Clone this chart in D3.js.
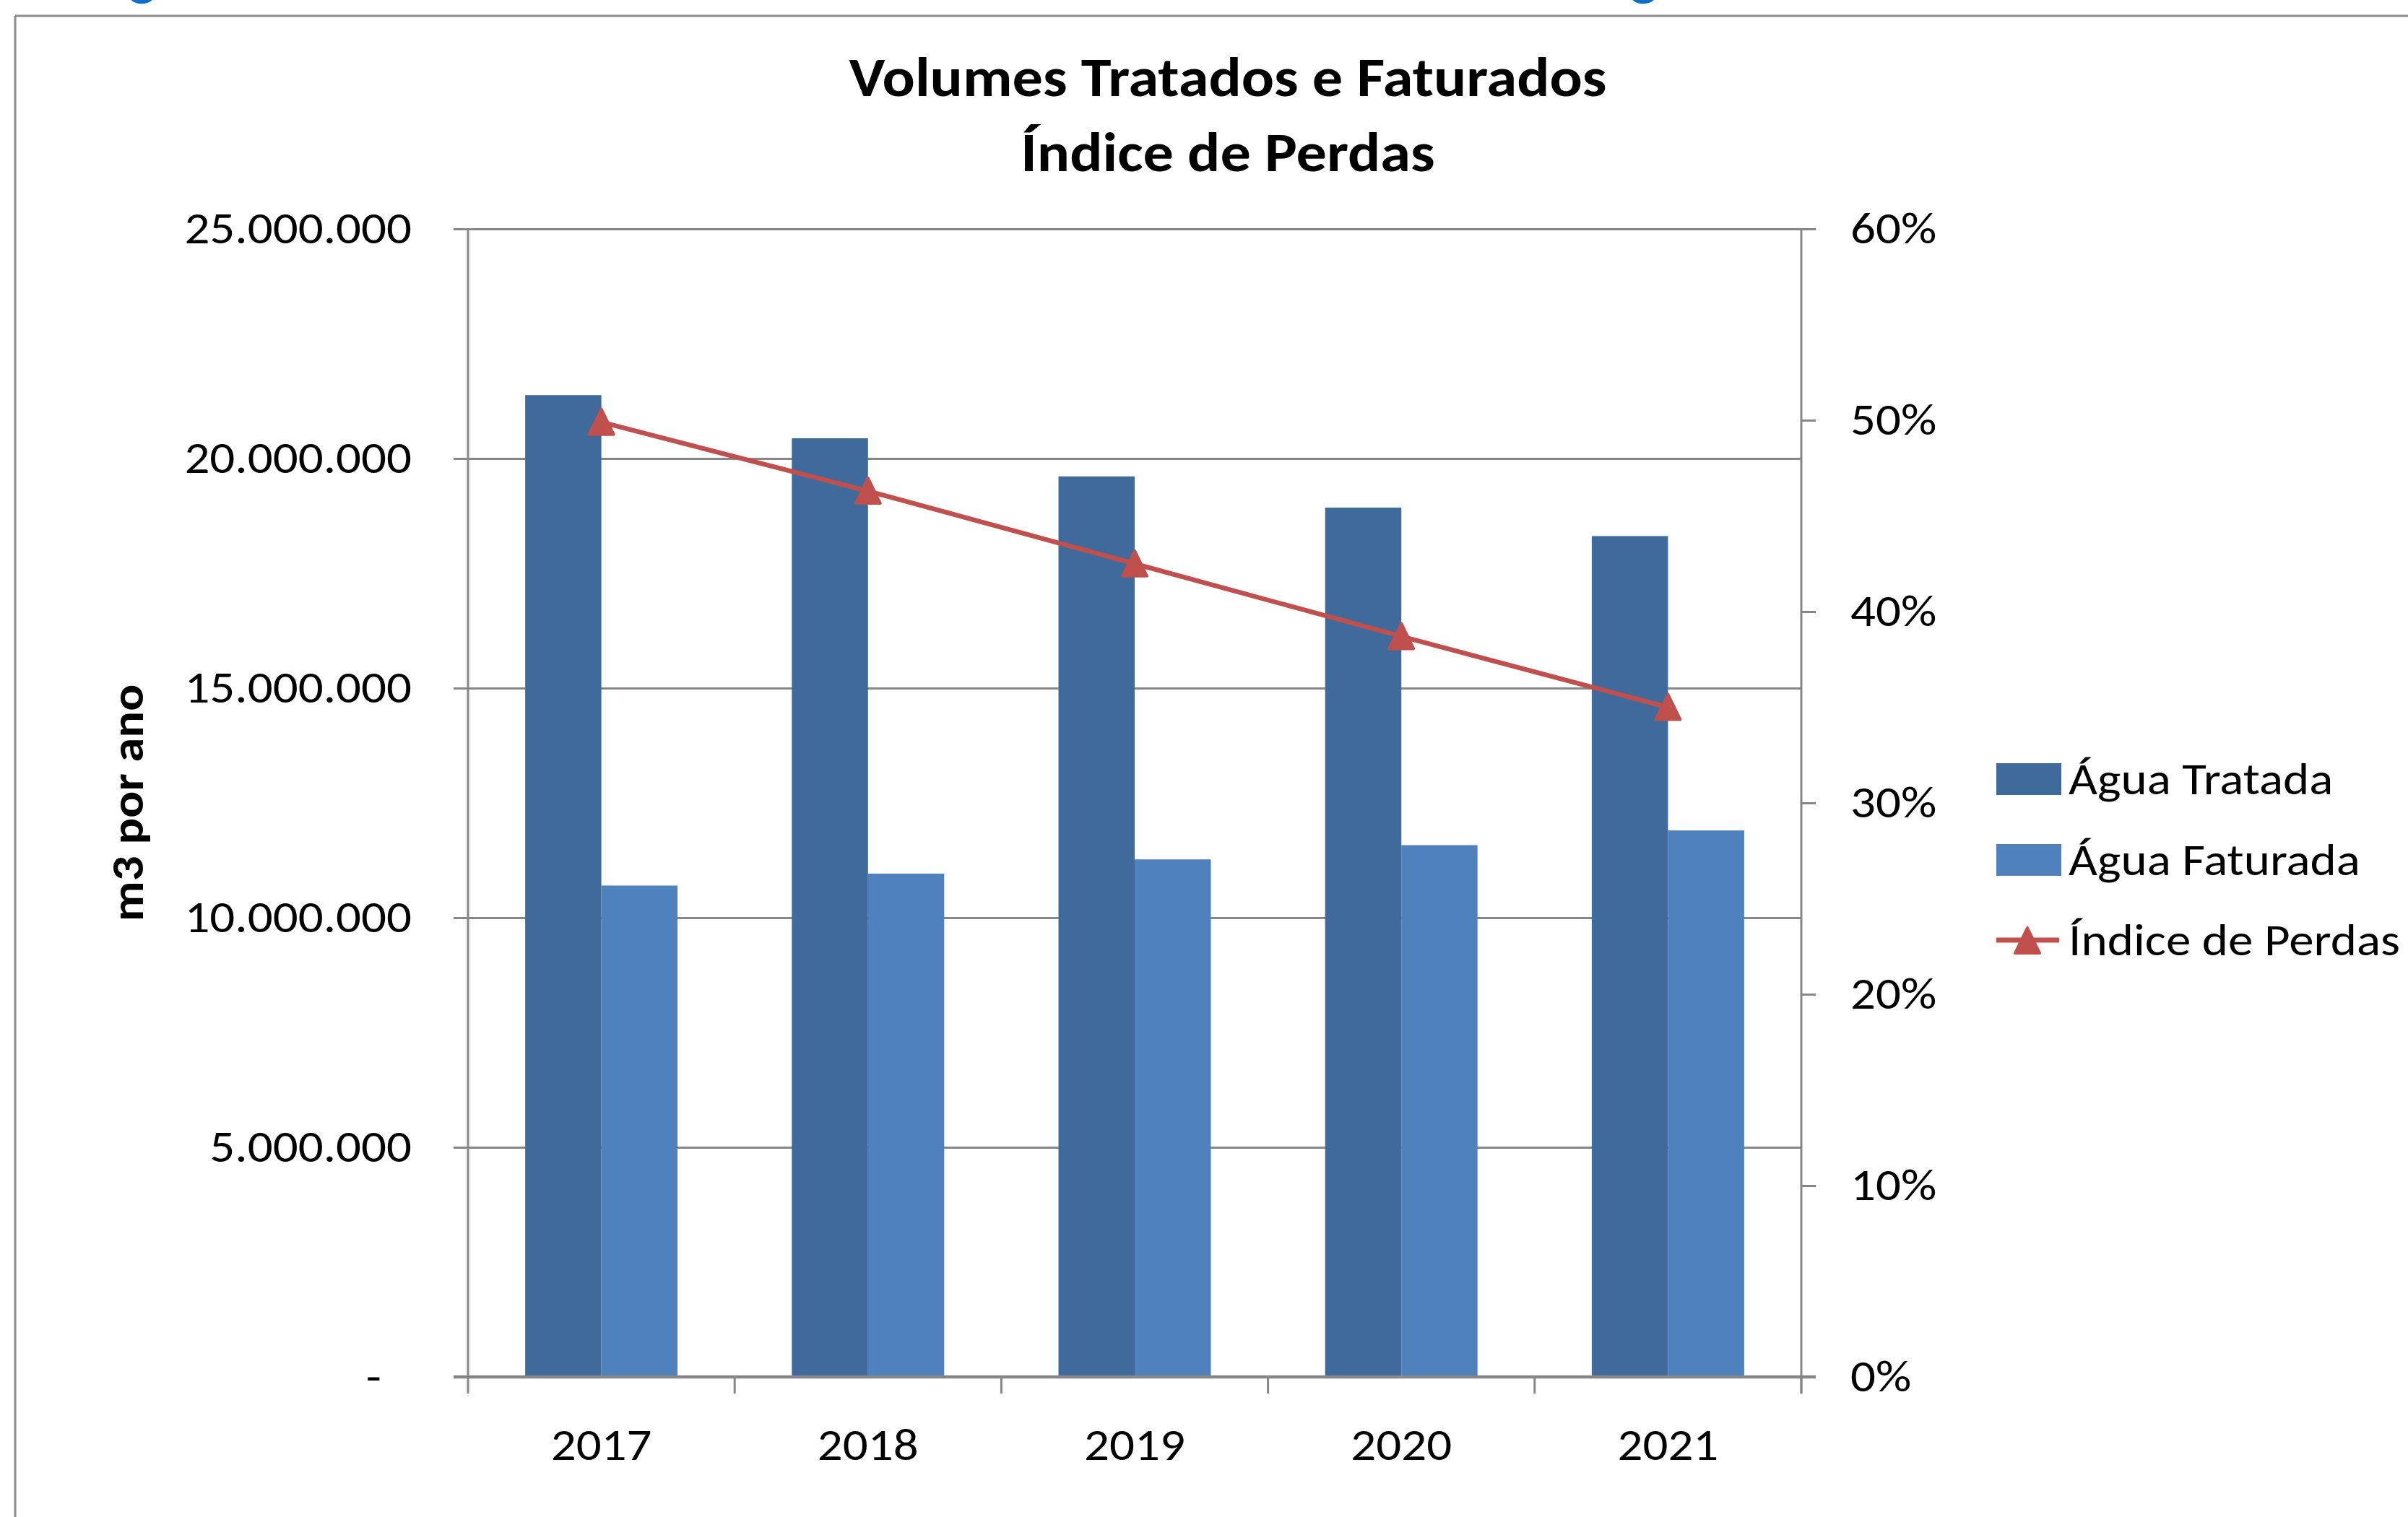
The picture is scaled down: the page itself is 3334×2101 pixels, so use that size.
<!DOCTYPE html>
<html>
<head>
<meta charset="utf-8">
<script src="https://cdn.jsdelivr.net/npm/d3@7"></script>
<style>
  html, body { margin: 0; padding: 0; background: #ffffff; }
  svg { display: block; }
  text { font-family: Carlito, Calibri, Lato, sans-serif; fill: #000; }
</style>
</head>
<body>
<svg id="chart" width="3334" height="2101"></svg>
<script>
// ---- data ----
const years = ["2017", "2018", "2019", "2020", "2021"];
const aguaTratada = [21380000, 20440000, 19610000, 18930000, 18310000];
const aguaFaturada = [10700000, 10960000, 11270000, 11580000, 11900000];
const indicePerdas = [0.499, 0.463, 0.425, 0.387, 0.350];
const leftTicks = [0, 5000000, 10000000, 15000000, 20000000, 25000000];
const rightTicks = [0, 0.1, 0.2, 0.3, 0.4, 0.5, 0.6];
const seriesNames = ["Água Tratada", "Água Faturada", "Índice de Perdas"];
const titleLines = ["Volumes Tratados e Faturados", "Índice de Perdas"];
const yAxisTitle = "m3 por ano";

// ---- styles ----
const C_TRAT = "#3F6A9B", C_FAT = "#4F81BD", C_LINE = "#C0504D", C_GRID = "#878787";
const FS = 62, FS_TITLE = 76;

const svg = d3.select("#chart");
const W = 3334, H = 2101;
const plot = { left: 648, right: 2494, top: 317, bottom: 1907 };

// width calibration to mimic Calibri metrics
function measure(str, size, weight) {
  const t = svg.append("text").attr("font-size", size).attr("font-weight", weight).text(str);
  const w = t.node().getComputedTextLength(); t.remove(); return w;
}
const kReg = 459 / measure("Índice de Perdas", FS, "normal");
const kBold = 1049 / measure("Volumes Tratados e Faturados", FS_TITLE, "bold");
function fit(sel, k) {
  sel.each(function () {
    const w = this.getComputedTextLength();
    this.setAttribute("textLength", w * k);
    this.setAttribute("lengthAdjust", "spacingAndGlyphs");
  });
}

const loc = d3.formatLocale({ decimal: ",", thousands: ".", grouping: [3], currency: ["R$", ""] });
const fmtNum = loc.format(",.0f");
const fmtPct = d3.format(".0%");

// ---- scales ----
const x = d3.scaleBand().domain(years).range([plot.left, plot.right]).paddingInner(0).paddingOuter(0);
const y = d3.scaleLinear().domain([0, 25000000]).range([plot.bottom, plot.top]);
const y2 = d3.scaleLinear().domain([0, 0.6]).range([plot.bottom, plot.top]);
const barW = x.bandwidth() / 3.5;
const groupOff = (x.bandwidth() - 2 * barW) / 2;

// ---- chart border (cut) ----
svg.append("line").attr("x1", 21).attr("x2", W).attr("y1", 22).attr("y2", 22)
  .attr("stroke", "#8C8C8C").attr("stroke-width", 3);
svg.append("line").attr("x1", 21).attr("x2", 21).attr("y1", 22).attr("y2", H)
  .attr("stroke", "#8C8C8C").attr("stroke-width", 3);

// cut-off blue text fragments above the chart
svg.append("text").attr("x", 178).attr("y", -9).attr("font-size", 80).attr("font-weight", "bold")
  .style("fill", "#0E6FC6").text("g");
svg.append("text").attr("x", 2257).attr("y", -9).attr("font-size", 80).attr("font-weight", "bold")
  .style("fill", "#0E6FC6").text("g");

// ---- gridlines + left axis ----
const gLeft = svg.append("g").attr("transform", `translate(${plot.left},0)`)
  .call(d3.axisLeft(y).tickValues(leftTicks).tickSize(plot.left - plot.right).tickSizeOuter(0).tickFormat(""));
gLeft.select(".domain").remove();
gLeft.selectAll(".tick line").attr("stroke", C_GRID).attr("stroke-width", 3).attr("x1", -20);

// ---- bars ----
svg.append("g").selectAll("rect").data(years).join("rect")
  .attr("x", d => x(d) + groupOff)
  .attr("width", barW)
  .attr("y", (d, i) => y(aguaTratada[i]))
  .attr("height", (d, i) => y(0) - y(aguaTratada[i]))
  .attr("fill", C_TRAT);
svg.append("g").selectAll("rect").data(years).join("rect")
  .attr("x", d => x(d) + groupOff + barW)
  .attr("width", barW)
  .attr("y", (d, i) => y(aguaFaturada[i]))
  .attr("height", (d, i) => y(0) - y(aguaFaturada[i]))
  .attr("fill", C_FAT);

// ---- axes lines ----
svg.append("line").attr("x1", plot.left).attr("x2", plot.left).attr("y1", plot.top).attr("y2", plot.bottom + 23)
  .attr("stroke", C_GRID).attr("stroke-width", 3);
svg.append("line").attr("x1", plot.right).attr("x2", plot.right).attr("y1", plot.top).attr("y2", plot.bottom + 23)
  .attr("stroke", C_GRID).attr("stroke-width", 3);

// bottom category axis
const gBottom = svg.append("g").attr("transform", `translate(0,${plot.bottom})`)
  .call(d3.axisBottom(x).tickSize(0).tickSizeOuter(0));
gBottom.select(".domain").remove();
gBottom.selectAll(".tick text").attr("font-size", FS).attr("font-family", null).attr("dy", null).attr("y", 115).style("fill", "#000");
fit(gBottom.selectAll(".tick text"), kReg);
// category boundary ticks
svg.append("g").selectAll("line").data(years).join("line")
  .attr("x1", d => x(d) + x.bandwidth()).attr("x2", d => x(d) + x.bandwidth())
  .attr("y1", plot.bottom).attr("y2", plot.bottom + 23)
  .attr("stroke", C_GRID).attr("stroke-width", 3);
svg.append("line").attr("x1", plot.left - 20).attr("x2", plot.right + 20).attr("y1", plot.bottom).attr("y2", plot.bottom)
  .attr("stroke", C_GRID).attr("stroke-width", 4.5);

// left tick labels
svg.append("g").selectAll("text").data(leftTicks).join("text")
  .attr("x", d => d === 0 ? 528 : 570)
  .attr("y", d => y(d)).attr("dy", "0.33em")
  .attr("text-anchor", "end").attr("font-size", FS)
  .text(d => d === 0 ? "-" : fmtNum(d))
  .call(fit, kReg);

// right axis ticks + labels
const gRight = svg.append("g").attr("transform", `translate(${plot.right},0)`)
  .call(d3.axisRight(y2).tickValues(rightTicks).tickSize(20).tickSizeOuter(0).tickFormat(""));
gRight.select(".domain").remove();
gRight.selectAll(".tick line").attr("stroke", C_GRID).attr("stroke-width", 3);
svg.append("g").selectAll("text").data(rightTicks).join("text")
  .attr("x", 2562).attr("y", d => y2(d)).attr("dy", "0.33em")
  .attr("font-size", FS).text(d => fmtPct(d))
  .call(fit, kReg);

// ---- line series ----
const cx = d => x(d) + x.bandwidth() / 2;
const lineGen = d3.line().x(d => cx(d)).y((d, i) => y2(indicePerdas[i]));
svg.append("path").datum(years).attr("d", lineGen)
  .attr("fill", "none").attr("stroke", C_LINE).attr("stroke-width", 6.5);
const tri = "M0,-18 L17,17 L-17,17 Z";
svg.append("g").selectAll("path").data(years).join("path")
  .attr("transform", (d, i) => `translate(${cx(d)},${y2(indicePerdas[i])})`)
  .attr("d", tri).attr("fill", C_LINE).attr("stroke", C_LINE)
  .attr("stroke-width", 4).attr("stroke-linejoin", "round");

// ---- titles ----
svg.append("g").selectAll("text").data(titleLines).join("text")
  .attr("x", 1700).attr("y", (d, i) => i === 0 ? 133 : 237)
  .attr("text-anchor", "middle").attr("font-size", FS_TITLE).attr("font-weight", "bold")
  .text(d => d).call(fit, kBold);

svg.append("text")
  .attr("transform", `translate(198,${(plot.top + plot.bottom) / 2}) rotate(-90)`)
  .attr("text-anchor", "middle").attr("font-size", FS).attr("font-weight", "bold")
  .text(yAxisTitle).call(fit, kBold);

// ---- legend ----
const legY = [1079, 1191, 1302];
const leg = svg.append("g");
leg.append("rect").attr("x", 2764).attr("y", legY[0] - 22).attr("width", 90).attr("height", 44).attr("fill", C_TRAT);
leg.append("rect").attr("x", 2764).attr("y", legY[1] - 22).attr("width", 90).attr("height", 44).attr("fill", C_FAT);
leg.append("line").attr("x1", 2764).attr("x2", 2851).attr("y1", legY[2]).attr("y2", legY[2])
  .attr("stroke", C_LINE).attr("stroke-width", 7);
leg.append("path").attr("transform", `translate(2807,${legY[2] + 1})`).attr("d", tri)
  .attr("fill", C_LINE).attr("stroke", C_LINE).attr("stroke-width", 4).attr("stroke-linejoin", "round");
leg.selectAll("text").data(seriesNames).join("text")
  .attr("x", 2864).attr("y", (d, i) => legY[i] + 21)
  .attr("font-size", FS).text(d => d).call(fit, kReg);
</script>
</body>
</html>
